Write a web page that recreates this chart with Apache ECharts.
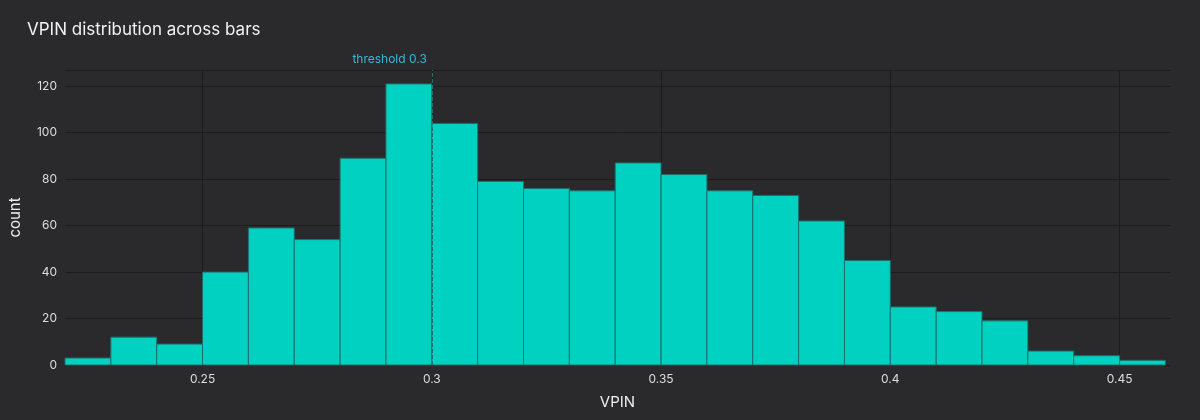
<!DOCTYPE html>
<html>
<head>
<meta charset="utf-8">
<script src="https://cdn.jsdelivr.net/npm/echarts@6/dist/echarts.min.js"></script>
<style>html,body{margin:0;background:#2a2a2c}#c{width:1200px;height:420px}</style>
</head>
<body>
<div id="c"></div>
<script>
var binStarts = [0.22,0.23,0.24,0.25,0.26,0.27,0.28,0.29,0.30,0.31,0.32,0.33,0.34,0.35,0.36,0.37,0.38,0.39,0.40,0.41,0.42,0.43,0.44,0.45];
var counts = [3,12,9,40,59,54,89,121,104,79,76,75,87,82,75,73,62,45,25,23,19,6,4,2];
var binWidth = 0.01;
var xTicks = [0.25,0.3,0.35,0.4,0.45];
var threshold = 0.3;

var chart = echarts.init(document.getElementById('c'));
var data = binStarts.map(function(s, i){ return [s, s + binWidth, counts[i]]; });
var option = {
  backgroundColor: '#2a2a2c',
  title: { text: 'VPIN distribution across bars', left: 22, top: 16,
    textStyle: { color: '#f2f2f2', fontSize: 17, fontWeight: 'normal', fontFamily: 'Inter' } },
  grid: { left: 62, right: 30, top: 70, bottom: 55 },
  xAxis: {
    type: 'value', min: 0.22, max: 0.461, name: 'VPIN', nameLocation: 'middle', nameGap: 30,
    nameTextStyle: { color: '#eee', fontSize: 15, fontFamily: 'Inter' },
    axisLine: { show: false }, splitLine: { show: false },
    axisTick: { show: false },
    axisLabel: { customValues: xTicks, color: '#ddd', fontSize: 12, fontFamily: 'Inter',
      formatter: function(v){ return String(+v.toFixed(2)); } }
  },
  yAxis: {
    type: 'value', min: 0, max: 127, interval: 20, name: 'count', nameLocation: 'middle', nameGap: 42,
    nameTextStyle: { color: '#eee', fontSize: 15, fontFamily: 'Inter' },
    axisLine: { show: false }, axisTick: { show: false },
    axisLabel: { color: '#ddd', fontSize: 12, fontFamily: 'Inter', showMaxLabel: false },
    splitLine: { lineStyle: { color: '#1c1c1e' } }
  },
  series: [{
    type: 'custom',
    renderItem: function(params, api){
      var p0 = api.coord([api.value(0), api.value(2)]);
      var p1 = api.coord([api.value(1), 0]);
      return { type: 'rect', shape: { x: p0[0], y: p0[1], width: p1[0] - p0[0], height: p1[1] - p0[1] },
        style: { fill: '#00d1c1', stroke: '#1f6f6a', lineWidth: 1 } };
    },
    encode: { x: [0, 1], y: 2 },
    data: data,
    z: 3,
    markLine: {
      silent: true, symbol: 'none', z: 1,
      label: { show: false },
      lineStyle: { color: '#1c1c1e', type: 'solid', width: 1 },
      data: xTicks.map(function(t){ return { xAxis: t }; })
    }
  }, {
    type: 'line', data: [], z: 5,
    markLine: {
      silent: true, symbol: 'none',
      lineStyle: { color: '#2a6a72', type: 'dashed', width: 1 },
      label: { show: true, position: 'insideEndTop', formatter: 'threshold 0.3', color: '#35b8d8',
        fontSize: 12, fontFamily: 'Inter', rotate: 0, offset: [0, 0] },
      data: [{ xAxis: threshold }]
    }
  }]
};
chart.setOption(option);
</script>
</body>
</html>
